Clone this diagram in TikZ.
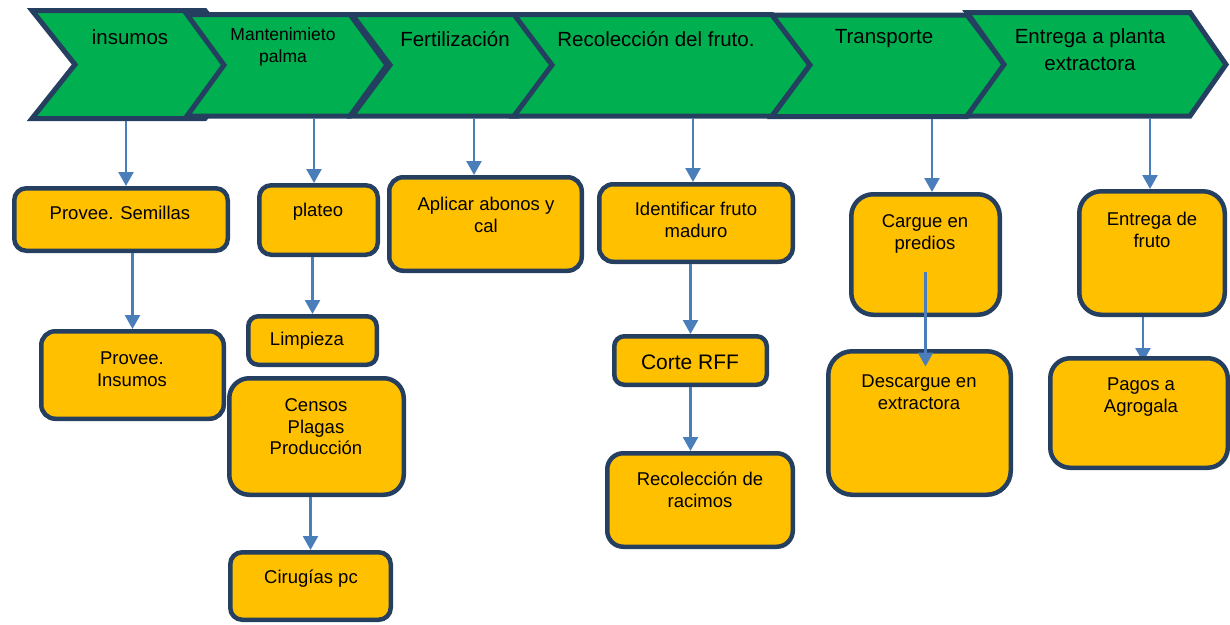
\documentclass[tikz,border=0pt]{standalone}
\usepackage{fontspec}
\setmainfont{Liberation Sans}
\usetikzlibrary{arrows.meta,calc}
\definecolor{chgreen}{HTML}{00B050}
\definecolor{bxyellow}{HTML}{FFC000}
\definecolor{navy}{HTML}{243F60}
\definecolor{arrblue}{HTML}{4A7EBB}
\pgfdeclarelayer{bg}
\pgfsetlayers{bg,main}
\begin{document}
\begin{tikzpicture}[x=1pt,y=-1pt,
  chev/.style={draw=navy,fill=chgreen,line width=5pt,line join=miter},
  box/.style={draw=navy,fill=bxyellow,line width=4.5pt,rounded corners=#1,inner sep=0pt},
  box/.default=12pt,
  txt/.style={inner sep=0pt,align=center,font=\fontsize{18.5}{21.5}\selectfont},
  ctxt/.style={inner sep=0pt,align=center,font=\fontsize{20.5}{27}\selectfont},
  arr/.style={draw=arrblue,line width=2.4pt,-{Triangle[width=15pt,length=14pt]}}]
\useasboundingbox (0,0) rectangle (1230,624);

% chevrons
\draw[chev] (32,10.5) -- (205,10.5) -- (248,64.5) -- (205,118.5) -- (32,118.5) -- (75,64.5) -- cycle;
\draw[chev] (187,14.5) -- (350,14.5) -- (387,65) -- (350,116) -- (187,116) -- (224,65) -- cycle;
\draw[chev] (352,14.5) -- (518,14.5) -- (556,65) -- (518,116) -- (352,116) -- (390,65) -- cycle;
\draw[chev] (514,14.5) -- (772,14.5) -- (810,65) -- (772,116) -- (514,116) -- (552,65) -- cycle;
\draw[chev] (772,15) -- (967,15) -- (1005,65) -- (967,116.5) -- (772,116.5) -- (810,65) -- cycle;
\draw[chev] (967,12.5) -- (1190,12.5) -- (1226,64.5) -- (1190,116) -- (967,116) -- (1004,64.5) -- cycle;

\node[ctxt] (h1) at (130,37) {insumos};
\node[inner sep=0pt,align=center,font=\fontsize{17.5}{22}\selectfont] (h2) at (283,47) {Mantenimieto\\palma};
\node[ctxt] (h3) at (455,39) {Fertilización};
\node[ctxt] (h4) at (656,39) {Recolección del fruto.};
\node[ctxt] (h5) at (884,39) {Transporte};
\node[ctxt] (h6) at (1090,49.5) {Entrega a planta\\extractora};

\coordinate (c1b) at (126,120.5);
\coordinate (c2b) at (314,118);
\coordinate (c3b) at (474,118);
\coordinate (c4b) at (693,118);
\coordinate (c5b) at (932,118.5);
\coordinate (c6b) at (1150,118);

% boxes
\node[box, minimum width=213.5pt, minimum height=62.5pt] (sem) at (121,219.5) {};
\node[box=14pt, minimum width=182.5pt, minimum height=87.5pt] (ins) at (132.5,375) {};
\node[box, minimum width=118.5pt, minimum height=69.5pt] (plat) at (318.5,220) {};
\node[box=10pt, minimum width=128.5pt, minimum height=48.5pt] (limp) at (312.5,340.5) {};
\node[box=20pt, minimum width=174.5pt, minimum height=116.5pt] (cens) at (316.5,436.5) {};
\node[box, minimum width=160.5pt, minimum height=67.5pt] (cir) at (310.5,586) {};
\node[box=14pt, minimum width=192.5pt, minimum height=93.5pt] (apl) at (485.5,224) {};
\node[box=14pt, minimum width=193.5pt, minimum height=77.5pt] (ident) at (696,223) {};
\node[box=10pt, minimum width=152.5pt, minimum height=48.5pt] (corte) at (690.5,360.5) {};
\node[box=16pt, minimum width=185.5pt, minimum height=93.5pt] (rac) at (700,500) {};
\node[box=22pt, minimum width=148.5pt, minimum height=120.5pt] (carg) at (925.5,254.5) {};
\node[box=24pt, minimum width=182.5pt, minimum height=143.5pt] (desc) at (919.5,423) {};
\node[box=22pt, minimum width=145.5pt, minimum height=123.5pt] (entf) at (1152,253) {};
\node[box=20pt, minimum width=177.5pt, minimum height=109.5pt] (pag) at (1139,413) {};

% texts
\node[txt] (tsem) at (120,213) {Provee. Semillas};
\node[txt] (tins) at (132,369) {Provee.\\Insumos};
\node[txt] (tplat) at (318,212) {plateo};
\node[txt] (tlimp) at (307,341) {Limpieza};
\node[txt] (tcens) at (316,427) {Censos\\Plagas\\Producción};
\node[txt] (tcir) at (311,579) {Cirugías pc};
\node[txt] (tapl) at (486,215) {Aplicar abonos y\\cal};
\node[txt] (tident) at (696,220) {Identificar fruto\\maduro};
\node[inner sep=0pt,font=\fontsize{21}{24}\selectfont] (tcorte) at (690,362) {Corte RFF};
\node[txt] (trac) at (700,490) {Recolección de\\racimos};
\node[txt] (tcarg) at (925,234) {Cargue en\\predios};
\node[txt] (tdesc) at (919,392) {Descargue en\\extractora};
\node[txt] (tentf) at (1152,230) {Entrega de\\fruto};
\node[txt] (tpag) at (1141,397) {Pagos a\\Agrogala};

% arrows
\draw[arr] (c1b) -- (c1b |- sem.north);
\draw[arr] (sem.south -| ins.north) -- (ins.north);
\draw[arr] (c2b) -- (c2b |- plat.north);
\draw[arr] (plat.south -| limp.north) -- (limp.north);
\draw[arr] (cens.south -| cir.north) -- (cir.north);
\draw[arr] (c3b) -- (c3b |- apl.north);
\draw[arr] (c4b) -- (c4b |- ident.north);
\draw[arr] (ident.south -| corte.north) -- (corte.north);
\draw[arr] (corte.south) -- (corte.south |- rac.north);
\draw[arr] (c5b) -- (c5b |- carg.north);
\draw[arr] ([yshift=-17.5pt]carg.center) -- ([yshift=-17.5pt]carg.center |- desc.north);
\draw[arr] (c6b) -- (c6b |- entf.north);
\begin{pgfonlayer}{bg}
\draw[arr] ([xshift=-9pt]entf.south) -- ([xshift=-9pt,yshift=-6pt]entf.south |- pag.north);
\end{pgfonlayer}
\end{tikzpicture}
\end{document}
